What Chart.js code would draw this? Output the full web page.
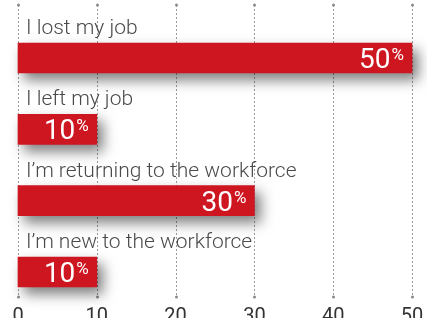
<!DOCTYPE html>
<html>
<head>
<meta charset="utf-8">
<script src="https://cdn.jsdelivr.net/npm/chart.js@4"></script>
<style>
html,body{margin:0;padding:0;background:#fff;overflow:hidden;}
canvas{display:block;}
</style>
</head>
<body>
<canvas id="c" width="427" height="318"></canvas>
<script>
const categories = ["I lost my job", "I left my job", "I\u2019m returning to the workforce", "I\u2019m new to the workforce"];
const values = [50, 10, 30, 10];
const xTicks = [0, 10, 20, 30, 40, 50];

const RED = 'rgb(206,22,32)';
const FONT = 'Roboto, "Liberation Sans", Arial, sans-serif';

const decor = {
  id: 'decor',
  beforeDatasetsDraw(chart) {
    const ctx = chart.ctx, xs = chart.scales.x;
    ctx.save();
    ctx.strokeStyle = '#9a9a9a';
    ctx.fillStyle = '#8a8a8a';
    ctx.lineWidth = 1;
    ctx.setLineDash([2, 2]);
    xTicks.forEach(v => {
      const x = Math.round(xs.getPixelForValue(v)) + 0.5;
      ctx.beginPath();
      ctx.moveTo(x, 5);
      ctx.lineTo(x, 297);
      ctx.stroke();
    });
    ctx.setLineDash([]);
    xTicks.forEach(v => {
      const x = Math.round(xs.getPixelForValue(v)) + 0.5;
      [5, 297].forEach(y => {
        ctx.beginPath();
        ctx.arc(x, y, 1.5, 0, Math.PI * 2);
        ctx.fill();
      });
    });
    const ys = chart.scales.y;
    ctx.fillStyle = '#4a4a4a';
    ctx.font = '300 21px ' + FONT;
    ctx.textAlign = 'left';
    ctx.textBaseline = 'alphabetic';
    categories.forEach((c, i) => {
      const y = ys.getPixelForValue(i);
      ctx.fillText(c, 26, y - 24);
    });
    ctx.restore();
    ctx.save();
    ctx.shadowColor = 'rgba(0,0,0,0.5)';
    ctx.shadowBlur = 13;
    ctx.shadowOffsetX = 6;
    ctx.shadowOffsetY = 7;
  },
  afterDatasetsDraw(chart) {
    const ctx = chart.ctx;
    ctx.restore();
    ctx.save();
    const meta = chart.getDatasetMeta(0);
    ctx.fillStyle = '#fff';
    ctx.textBaseline = 'alphabetic';
    ctx.textAlign = 'right';
    meta.data.forEach((bar, i) => {
      const right = bar.x - 8;
      const y = bar.y;
      ctx.font = '400 17px ' + FONT;
      const pw = ctx.measureText('%').width;
      ctx.fillText('%', right, y + 2);
      ctx.font = '400 28px ' + FONT;
      ctx.fillText(String(values[i]), right - pw - 1, y + 10);
    });
    ctx.restore();
  }
};

new Chart(document.getElementById('c'), {
  type: 'bar',
  data: {
    labels: categories,
    datasets: [{
      data: values,
      backgroundColor: RED,
      barThickness: 30,
      clip: false
    }]
  },
  options: {
    indexAxis: 'y',
    responsive: false,
    animation: false,
    devicePixelRatio: 1,
    layout: { padding: { top: 58, left: 18, right: 15, bottom: 0 } },
    plugins: { legend: { display: false }, tooltip: { enabled: false } },
    scales: {
      x: {
        min: 0, max: 50,
        ticks: { stepSize: 10, padding: 33, color: '#333', font: { family: FONT, size: 20, weight: '400' } },
        grid: { display: false, drawTicks: false },
        border: { display: false },
        afterFit(s) { s.height = 46; s.paddingLeft = 0; s.paddingRight = 0; }
      },
      y: { display: false, offset: false }
    }
  },
  plugins: [decor]
});
</script>
</body>
</html>
